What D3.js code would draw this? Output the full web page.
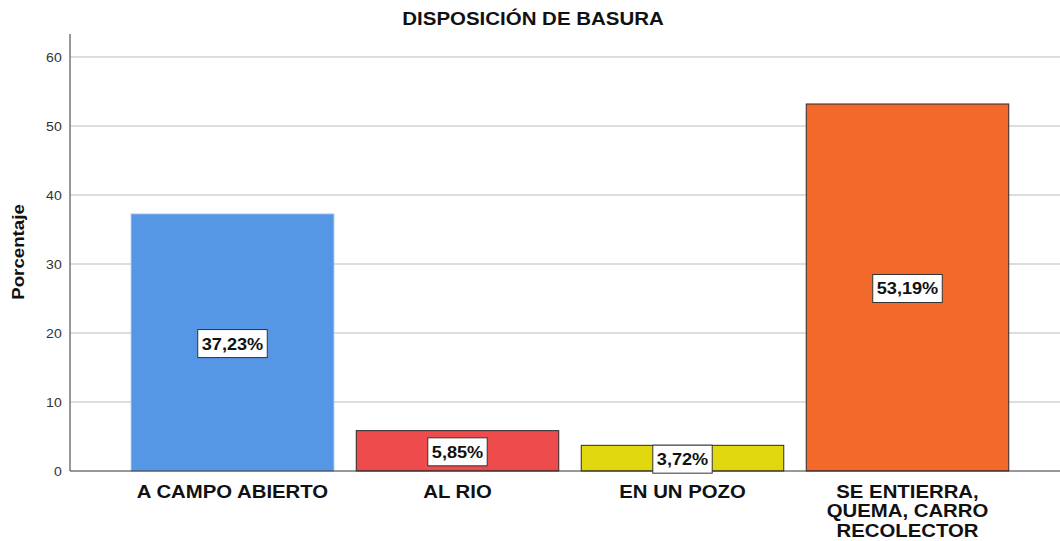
<!DOCTYPE html>
<meta charset="utf-8">
<style>
body { margin: 0; background: white; font-family: Arial, "Liberation Sans", sans-serif; }
svg text { font-family: Arial, "Liberation Sans", sans-serif; }
</style>
<body>
<script src="https://cdn.jsdelivr.net/npm/d3@7"></script>
<script>
'use strict';

// data
const categories = ["A CAMPO ABIERTO", "AL RIO", "EN UN POZO", "SE ENTIERRA, QUEMA, CARRO RECOLECTOR"];
const catLines = [["A CAMPO ABIERTO"], ["AL RIO"], ["EN UN POZO"], ["SE ENTIERRA,", "QUEMA, CARRO", "RECOLECTOR"]];
const percents = [37.23, 5.85, 3.72, 53.19];
const barColors = ["#5596e5", "#ee4b4c", "#e1d70f", "#f2692b"];
const yTicks = [0, 10, 20, 30, 40, 50, 60];

const width = 1060, height = 541;
const sx = 1.1; // text in the picture is a bit wide
const svg = d3.select("body").append("svg")
    .attr("width", width)
    .attr("height", height);

const x = d3.scaleBand()
    .domain(categories)
    .range([120, 1020])
    .paddingInner(0.1)
    .paddingOuter(0.05);

const y = d3.scaleLinear()
    .domain([0, 60])
    .range([471, 57]);

// gridlines
svg.append("g")
  .selectAll("line")
  .data(yTicks.filter(d => d > 0))
  .enter().append("line")
    .attr("x1", 70).attr("x2", width)
    .attr("y1", d => y(d)).attr("y2", d => y(d))
    .attr("stroke", "#d3d3d3")
    .attr("stroke-width", 1.5);

// y axis
const yAxis = svg.append("g")
    .attr("transform", "translate(70,0)")
    .call(d3.axisLeft(y).tickValues(yTicks).tickSize(0).tickPadding(7.5));
yAxis.select(".domain").remove();
yAxis.selectAll("text")
    .attr("font-size", 12.8)
    .attr("fill", "#333")
    .attr("transform", "scale(" + sx + ",1)");
svg.append("line")
    .attr("x1", 70).attr("x2", 70)
    .attr("y1", 34).attr("y2", y(0))
    .attr("stroke", "#777")
    .attr("stroke-width", 1.5);

// bars
svg.append("g")
  .selectAll("rect")
  .data(categories)
  .enter().append("rect")
    .attr("x", d => x(d))
    .attr("width", x.bandwidth())
    .attr("y", (d, i) => y(percents[i]))
    .attr("height", (d, i) => y(0) - y(percents[i]))
    .attr("fill", (d, i) => barColors[i])
    .attr("stroke", (d, i) => i === 0 ? "#7fb0ee" : "#2a2a2a")
    .attr("stroke-width", 1);

// baseline
svg.append("line")
    .attr("x1", 70).attr("x2", width)
    .attr("y1", y(0)).attr("y2", y(0))
    .attr("stroke", "#333")
    .attr("stroke-width", 1);

// value labels
const fmt = v => v.toFixed(2).replace(".", ",") + "%";
const lab = svg.append("g")
  .selectAll("g")
  .data(categories)
  .enter().append("g")
    .attr("transform", (d, i) => "translate(" + (x(d) + x.bandwidth() / 2) + "," + ((y(percents[i]) + y(0)) / 2 + 1) + ")");
lab.append("rect")
    .attr("y", -14)
    .attr("height", 28)
    .attr("fill", "white")
    .attr("stroke", "#333")
    .attr("stroke-width", 1);
lab.append("text")
    .attr("text-anchor", "middle")
    .attr("dy", "0.36em")
    .attr("font-size", 16.5)
    .attr("font-weight", "bold")
    .attr("fill", "#111")
    .attr("transform", "scale(" + sx + ",1)")
    .text((d, i) => fmt(percents[i]));
lab.each(function() {
  const w = this.querySelector("text").getBBox().width * sx + 8;
  d3.select(this).select("rect").attr("x", -w / 2).attr("width", w);
});

// category labels
const cl = svg.append("g")
  .selectAll("text")
  .data(categories)
  .enter().append("text")
    .attr("text-anchor", "middle")
    .attr("font-size", 18.5)
    .attr("font-weight", "bold")
    .attr("fill", "#111")
    .attr("transform", d => "translate(" + (x(d) + x.bandwidth() / 2) + ",498) scale(" + sx + ",1)");
cl.selectAll("tspan")
  .data((d, i) => catLines[i])
  .enter().append("tspan")
    .attr("x", 0)
    .attr("dy", (d, i) => i === 0 ? 0 : 19.5)
    .text(d => d);

// title
svg.append("text")
    .attr("transform", "translate(533,25) scale(" + sx + ",1)")
    .attr("text-anchor", "middle")
    .attr("font-size", 18.6)
    .attr("font-weight", "bold")
    .attr("fill", "#111")
    .text("DISPOSICIÓN DE BASURA");

// y axis title
svg.append("text")
    .attr("transform", "translate(24,252) rotate(-90) scale(" + sx + ",1)")
    .attr("text-anchor", "middle")
    .attr("font-size", 17)
    .attr("font-weight", "bold")
    .attr("fill", "#111")
    .text("Porcentaje");
</script>
</body>
